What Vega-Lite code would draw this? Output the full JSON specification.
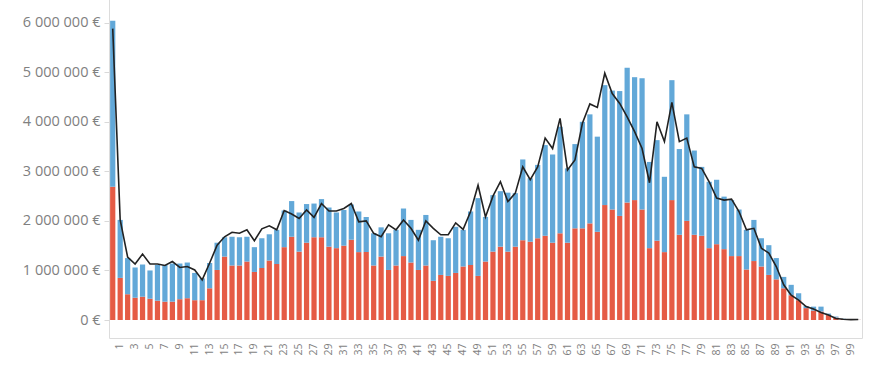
{
  "$schema": "https://vega.github.io/schema/vega-lite/v6.json",
  "autosize": {"type": "none"},
  "width": 753,
  "height": 340,
  "padding": {"left": 109, "top": -2, "right": 26, "bottom": 40},
  "background": "#ffffff",
  "config": {
    "locale": {"number": {"decimal": ",", "thousands": " ", "grouping": [3], "currency": ["", " €"]}},
    "view": {"stroke": "#dcdcdc", "strokeWidth": 1},
    "font": "Open Sans"
  },
  "data": {"values": [
    {"age":0,"serie1":2690000,"serie2":3350000,"ligne":5880000},
    {"age":1,"serie1":850000,"serie2":1170000,"ligne":2020000},
    {"age":2,"serie1":520000,"serie2":730000,"ligne":1270000},
    {"age":3,"serie1":450000,"serie2":610000,"ligne":1130000},
    {"age":4,"serie1":470000,"serie2":650000,"ligne":1330000},
    {"age":5,"serie1":430000,"serie2":570000,"ligne":1130000},
    {"age":6,"serie1":390000,"serie2":720000,"ligne":1130000},
    {"age":7,"serie1":370000,"serie2":740000,"ligne":1100000},
    {"age":8,"serie1":370000,"serie2":770000,"ligne":1180000},
    {"age":9,"serie1":420000,"serie2":720000,"ligne":1060000},
    {"age":10,"serie1":440000,"serie2":720000,"ligne":1080000},
    {"age":11,"serie1":400000,"serie2":550000,"ligne":1010000},
    {"age":12,"serie1":400000,"serie2":440000,"ligne":810000},
    {"age":13,"serie1":640000,"serie2":510000,"ligne":1150000},
    {"age":14,"serie1":1010000,"serie2":550000,"ligne":1510000},
    {"age":15,"serie1":1280000,"serie2":390000,"ligne":1680000},
    {"age":16,"serie1":1100000,"serie2":580000,"ligne":1770000},
    {"age":17,"serie1":1100000,"serie2":570000,"ligne":1750000},
    {"age":18,"serie1":1180000,"serie2":500000,"ligne":1820000},
    {"age":19,"serie1":970000,"serie2":500000,"ligne":1600000},
    {"age":20,"serie1":1050000,"serie2":600000,"ligne":1840000},
    {"age":21,"serie1":1200000,"serie2":530000,"ligne":1900000},
    {"age":22,"serie1":1130000,"serie2":690000,"ligne":1820000},
    {"age":23,"serie1":1470000,"serie2":740000,"ligne":2210000},
    {"age":24,"serie1":1680000,"serie2":720000,"ligne":2140000},
    {"age":25,"serie1":1380000,"serie2":790000,"ligne":2050000},
    {"age":26,"serie1":1560000,"serie2":780000,"ligne":2220000},
    {"age":27,"serie1":1670000,"serie2":680000,"ligne":2070000},
    {"age":28,"serie1":1670000,"serie2":770000,"ligne":2350000},
    {"age":29,"serie1":1480000,"serie2":790000,"ligne":2200000},
    {"age":30,"serie1":1450000,"serie2":720000,"ligne":2200000},
    {"age":31,"serie1":1500000,"serie2":720000,"ligne":2250000},
    {"age":32,"serie1":1620000,"serie2":710000,"ligne":2350000},
    {"age":33,"serie1":1370000,"serie2":820000,"ligne":1980000},
    {"age":34,"serie1":1370000,"serie2":710000,"ligne":2000000},
    {"age":35,"serie1":1100000,"serie2":650000,"ligne":1750000},
    {"age":36,"serie1":1280000,"serie2":590000,"ligne":1680000},
    {"age":37,"serie1":1010000,"serie2":740000,"ligne":1920000},
    {"age":38,"serie1":1100000,"serie2":720000,"ligne":1820000},
    {"age":39,"serie1":1290000,"serie2":960000,"ligne":2020000},
    {"age":40,"serie1":1160000,"serie2":860000,"ligne":1850000},
    {"age":41,"serie1":1010000,"serie2":810000,"ligne":1610000},
    {"age":42,"serie1":1100000,"serie2":1020000,"ligne":2000000},
    {"age":43,"serie1":790000,"serie2":820000,"ligne":1850000},
    {"age":44,"serie1":910000,"serie2":770000,"ligne":1720000},
    {"age":45,"serie1":890000,"serie2":760000,"ligne":1720000},
    {"age":46,"serie1":950000,"serie2":930000,"ligne":1960000},
    {"age":47,"serie1":1080000,"serie2":740000,"ligne":1830000},
    {"age":48,"serie1":1110000,"serie2":1080000,"ligne":2190000},
    {"age":49,"serie1":890000,"serie2":1570000,"ligne":2720000},
    {"age":50,"serie1":1180000,"serie2":900000,"ligne":2080000},
    {"age":51,"serie1":1380000,"serie2":1140000,"ligne":2500000},
    {"age":52,"serie1":1480000,"serie2":1120000,"ligne":2790000},
    {"age":53,"serie1":1380000,"serie2":1190000,"ligne":2390000},
    {"age":54,"serie1":1480000,"serie2":1080000,"ligne":2560000},
    {"age":55,"serie1":1610000,"serie2":1630000,"ligne":3090000},
    {"age":56,"serie1":1580000,"serie2":1280000,"ligne":2830000},
    {"age":57,"serie1":1650000,"serie2":1480000,"ligne":3090000},
    {"age":58,"serie1":1700000,"serie2":1830000,"ligne":3670000},
    {"age":59,"serie1":1560000,"serie2":1780000,"ligne":3460000},
    {"age":60,"serie1":1750000,"serie2":2150000,"ligne":4070000},
    {"age":61,"serie1":1560000,"serie2":1500000,"ligne":3030000},
    {"age":62,"serie1":1850000,"serie2":1700000,"ligne":3230000},
    {"age":63,"serie1":1850000,"serie2":2150000,"ligne":3970000},
    {"age":64,"serie1":1950000,"serie2":2200000,"ligne":4360000},
    {"age":65,"serie1":1780000,"serie2":1920000,"ligne":4290000},
    {"age":66,"serie1":2320000,"serie2":2420000,"ligne":4980000},
    {"age":67,"serie1":2230000,"serie2":2400000,"ligne":4570000},
    {"age":68,"serie1":2100000,"serie2":2520000,"ligne":4370000},
    {"age":69,"serie1":2370000,"serie2":2720000,"ligne":4100000},
    {"age":70,"serie1":2420000,"serie2":2480000,"ligne":3800000},
    {"age":71,"serie1":2230000,"serie2":2650000,"ligne":3460000},
    {"age":72,"serie1":1450000,"serie2":1740000,"ligne":2770000},
    {"age":73,"serie1":1600000,"serie2":2030000,"ligne":4000000},
    {"age":74,"serie1":1370000,"serie2":1520000,"ligne":3600000},
    {"age":75,"serie1":2420000,"serie2":2420000,"ligne":4390000},
    {"age":76,"serie1":1720000,"serie2":1730000,"ligne":3600000},
    {"age":77,"serie1":2000000,"serie2":2150000,"ligne":3670000},
    {"age":78,"serie1":1720000,"serie2":1700000,"ligne":3090000},
    {"age":79,"serie1":1700000,"serie2":1390000,"ligne":3060000},
    {"age":80,"serie1":1450000,"serie2":1340000,"ligne":2790000},
    {"age":81,"serie1":1530000,"serie2":1300000,"ligne":2460000},
    {"age":82,"serie1":1430000,"serie2":1060000,"ligne":2420000},
    {"age":83,"serie1":1290000,"serie2":1130000,"ligne":2440000},
    {"age":84,"serie1":1290000,"serie2":940000,"ligne":2190000},
    {"age":85,"serie1":1020000,"serie2":800000,"ligne":1820000},
    {"age":86,"serie1":1190000,"serie2":830000,"ligne":1850000},
    {"age":87,"serie1":1080000,"serie2":570000,"ligne":1450000},
    {"age":88,"serie1":910000,"serie2":600000,"ligne":1350000},
    {"age":89,"serie1":820000,"serie2":430000,"ligne":1080000},
    {"age":90,"serie1":640000,"serie2":230000,"ligne":710000},
    {"age":91,"serie1":500000,"serie2":210000,"ligne":500000},
    {"age":92,"serie1":400000,"serie2":140000,"ligne":400000},
    {"age":93,"serie1":240000,"serie2":40000,"ligne":270000},
    {"age":94,"serie1":190000,"serie2":80000,"ligne":220000},
    {"age":95,"serie1":170000,"serie2":100000,"ligne":150000},
    {"age":96,"serie1":100000,"serie2":30000,"ligne":100000},
    {"age":97,"serie1":50000,"serie2":20000,"ligne":30000},
    {"age":98,"serie1":20000,"serie2":5000,"ligne":15000},
    {"age":99,"serie1":8000,"serie2":2000,"ligne":8000},
    {"age":100,"serie1":3000,"serie2":2000,"ligne":10000}
  ]},
  "encoding": {
    "x": {
      "field": "age", "type": "ordinal",
      "scale": {"paddingInner": 0.3, "paddingOuter": 0.15},
      "axis": {
        "title": null,
        "values": [1,3,5,7,9,11,13,15,17,19,21,23,25,27,29,31,33,35,37,39,41,43,45,47,49,51,53,55,57,59,61,63,65,67,69,71,73,75,77,79,81,83,85,87,89,91,93,95,97,99],
        "labelAngle": -90,
        "labelFontSize": 10.5,
        "labelColor": "#7f7f7f",
        "labelPadding": 5,
        "ticks": false,
        "domain": false
      }
    }
  },
  "layer": [
    {
      "transform": [{"fold": ["serie1", "serie2"], "as": ["serie", "montant"]}],
      "mark": {"type": "bar"},
      "encoding": {
        "y": {
          "field": "montant", "type": "quantitative", "stack": "zero",
          "scale": {"domain": [-363000, 6498000], "nice": false, "zero": false},
          "axis": {
            "title": null,
            "values": [0, 1000000, 2000000, 3000000, 4000000, 5000000, 6000000],
            "format": "$,.0f",
            "grid": false,
            "domain": false,
            "tickSize": 5,
            "tickColor": "#d9d9d9",
            "labelPadding": 4,
            "labelFontSize": 14.5,
            "labelColor": "#808080"
          }
        },
        "color": {
          "field": "serie", "type": "nominal",
          "scale": {"domain": ["serie1", "serie2"], "range": ["#E55B45", "#62A8D8"]},
          "legend": null
        },
        "order": {"field": "serie", "sort": "ascending"}
      }
    },
    {
      "mark": {"type": "line", "color": "#222222", "strokeWidth": 1.6},
      "encoding": {
        "y": {"field": "ligne", "type": "quantitative"}
      }
    }
  ]
}
